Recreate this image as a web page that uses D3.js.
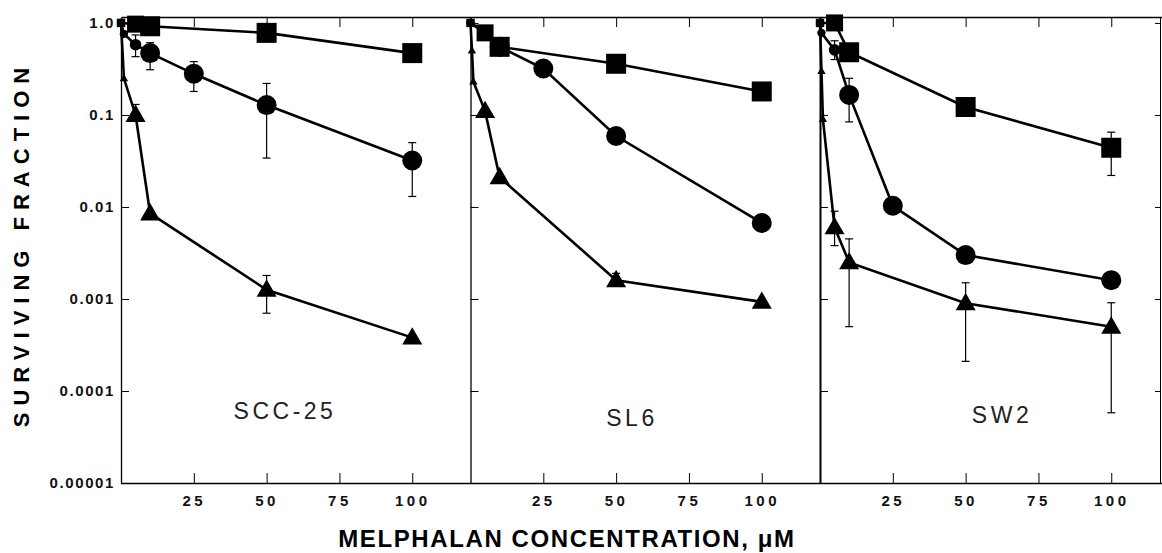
<!DOCTYPE html>
<html>
<head>
  <meta charset="utf-8">
  <title>Melphalan survival curves</title>
  <script src="https://d3js.org/d3.v7.min.js"></script>
  <style>
    body { margin: 0; background: #fff; }
    svg { display: block; }
    .tick text { font-family: "Liberation Sans", Arial, sans-serif; font-weight: bold; fill: #111; }
  </style>
</head>
<body>
<div id="chart"></div>

<script>
// cell lines (one panel each)
const cellLines = ["SCC-25", "SL6", "SW2"];

// [dose uM, surviving fraction]
const sccSquare   = [[0, 1.0], [5, 0.97], [10, 0.92], [50, 0.78], [100, 0.47]];
const sccCircle   = [[0, 1.0], [1, 0.76], [5, 0.58], [10, 0.47], [25, 0.28], [50, 0.128], [100, 0.032]];
const sccTriangle = [[0, 1.0], [1, 0.25], [5, 0.10], [10, 0.0085], [50, 0.00126], [100, 0.00038]];

const sl6Square   = [[0, 1.0], [5, 0.78], [10, 0.55], [50, 0.36], [100, 0.18]];
const sl6Circle   = [[0, 1.0], [5, 0.8], [10, 0.55], [25, 0.32], [50, 0.059], [100, 0.0067]];
const sl6Triangle = [[0, 1.0], [0.5, 0.5], [1, 0.23], [5, 0.11], [10, 0.021], [50, 0.0016], [100, 0.00093]];

const sw2Square   = [[0, 1.0], [5, 1.0], [10, 0.48], [50, 0.122], [100, 0.044]];
const sw2Circle   = [[0, 1.0], [0.5, 0.78], [5, 0.51], [10, 0.165], [25, 0.0103], [50, 0.003], [100, 0.0016]];
const sw2Triangle = [[0, 1.0], [0.5, 0.3], [1, 0.09], [5, 0.006], [10, 0.0025], [50, 0.0009], [100, 0.0005]];

// error bars: [dose, low, high]
const sccCircleErr   = [[5, 0.43, 0.74], [10, 0.31, 0.61], [25, 0.18, 0.38], [50, 0.034, 0.22], [100, 0.013, 0.05]];
const sccTriangleErr = [[5, 0.085, 0.13], [50, 0.0007, 0.0018]];
const sl6SquareErr   = [[10, 0.5, 0.6]];
const sl6CircleErr   = [[50, 0.048, 0.066], [100, 0.006, 0.0075]];
const sl6TriangleErr = [[50, 0.0014, 0.0019]];
const sw2SquareErr   = [[50, 0.1, 0.13], [100, 0.022, 0.065]];
const sw2CircleErr   = [[5, 0.4, 0.64], [10, 0.084, 0.25], [50, 0.0026, 0.0034], [100, 0.0015, 0.0018]];
const sw2TriangleErr = [[5, 0.0038, 0.009], [10, 0.0005, 0.0045], [50, 0.00021, 0.0015], [100, 0.000058, 0.00091]];

const xTicks = [25, 50, 75, 100];
const yTicks = [1, 0.1, 0.01, 0.001, 0.0001, 0.00001];
const yTickLabels = ["1.0", "0.1", "0.01", "0.001", "0.0001", "0.00001"];

const panelSeries = [
  [{shape: "square", pts: sccSquare, err: []},
   {shape: "circle", pts: sccCircle, err: sccCircleErr},
   {shape: "triangle", pts: sccTriangle, err: sccTriangleErr}],
  [{shape: "square", pts: sl6Square, err: sl6SquareErr},
   {shape: "circle", pts: sl6Circle, err: sl6CircleErr},
   {shape: "triangle", pts: sl6Triangle, err: sl6TriangleErr}],
  [{shape: "square", pts: sw2Square, err: sw2SquareErr},
   {shape: "circle", pts: sw2Circle, err: sw2CircleErr},
   {shape: "triangle", pts: sw2Triangle, err: sw2TriangleErr}]
];

const width = 1162, height = 553;
const plotLeft = 121, panelW = 349.5, rightEdge = 1160;
const plotTop = 17, plotBottom = 483;

const svg = d3.select("#chart").append("svg")
  .attr("width", width)
  .attr("height", height);

const y = d3.scaleLog().domain([0.00001, 1.16]).range([plotBottom, plotTop]);

const line = x => d3.line().x(d => x(d[0])).y(d => y(d[1]));

// marker size: near-zero doses are drawn small, low-dose circles a bit smaller
function markerScale(shape, dose) {
  if (dose < 2) return 0.42;
  if (dose < 8 && shape === "circle") return 0.58;
  if (dose < 8 && shape === "square") return 0.85;
  return 1;
}

function drawMarker(g, shape, cx, cy, k) {
  const s = 20 * k;
  if (shape === "square") {
    g.append("rect").attr("x", cx - s / 2).attr("y", cy - s / 2)
      .attr("width", s).attr("height", s).attr("fill", "#000");
  } else if (shape === "circle") {
    g.append("circle").attr("cx", cx).attr("cy", cy).attr("r", s / 2).attr("fill", "#000");
  } else {
    const h = s * 0.87;
    g.append("path")
      .attr("d", `M${cx},${cy - h * 0.6}L${cx + s / 2},${cy + h * 0.4}L${cx - s / 2},${cy + h * 0.4}Z`)
      .attr("fill", "#000");
  }
}

cellLines.forEach((name, i) => {
  const left = plotLeft + i * panelW;
  const x = d3.scaleLinear().domain([0, 120]).range([left, left + panelW]);
  const g = svg.append("g");

  // left axis with inward ticks
  const yAxis = d3.axisLeft(y).tickValues(yTicks).tickSizeInner(-8).tickSizeOuter(0).tickPadding(6)
    .tickFormat((d, j) => i === 0 ? yTickLabels[j] : "");
  g.append("g").attr("transform", `translate(${left},0)`).call(yAxis)
    .call(a => a.select(".domain").attr("stroke-width", i === 2 ? 2 : 1.3))
    .call(a => a.selectAll(".tick text").attr("font-size", 15).attr("letter-spacing", 1.6));

  // bottom and top axes
  g.append("g").attr("transform", `translate(0,${plotBottom})`)
    .call(d3.axisBottom(x).tickValues(xTicks).tickSizeInner(-10).tickSizeOuter(0).tickPadding(12))
    .call(a => a.select(".domain").attr("stroke-width", 1.3))
    .call(a => a.selectAll(".tick text").attr("font-size", 15).attr("letter-spacing", 3.5));
  g.append("g").attr("transform", `translate(0,${plotTop})`)
    .call(d3.axisTop(x).tickValues(xTicks).tickSizeInner(-10).tickSizeOuter(0).tickFormat(""))
    .call(a => a.select(".domain").attr("stroke-width", 1.3));

  if (i === 2) {
    g.append("g").attr("transform", `translate(${rightEdge},0)`)
      .call(d3.axisRight(y).tickValues(yTicks).tickSizeInner(-5).tickSizeOuter(0).tickFormat(""));
  }

  const series = panelSeries[i];

  series.forEach(s => {
    g.append("path").datum(s.pts).attr("d", line(x))
      .attr("fill", "none").attr("stroke", "#000").attr("stroke-width", 2.6);
  });

  series.forEach(s => {
    s.err.forEach(e => {
      const ex = x(e[0]);
      g.append("line").attr("x1", ex).attr("x2", ex).attr("y1", y(e[1])).attr("y2", y(e[2]))
        .attr("stroke", "#000").attr("stroke-width", 1.2);
      [e[1], e[2]].forEach(v => {
        g.append("line").attr("x1", ex - 4).attr("x2", ex + 4).attr("y1", y(v)).attr("y2", y(v))
          .attr("stroke", "#000").attr("stroke-width", 1.2);
      });
    });
  });

  series.forEach(s => {
    s.pts.forEach(p => drawMarker(g, s.shape, x(p[0]), y(p[1]), markerScale(s.shape, p[0])));
  });

  // cell line label
  g.append("text")
    .attr("x", [285, 632, 1002][i]).attr("y", [419, 426, 423][i])
    .attr("text-anchor", "middle")
    .attr("font-family", "Liberation Sans, Arial, sans-serif")
    .attr("font-size", 23).attr("letter-spacing", 3.5).attr("fill", "#222")
    .text(name);
});

// axis titles
svg.append("text")
  .attr("transform", "translate(29,244) rotate(-90)")
  .attr("text-anchor", "middle")
  .attr("font-family", "Liberation Sans, Arial, sans-serif")
  .attr("font-weight", "bold").attr("font-size", 22).attr("letter-spacing", 7)
  .text("SURVIVING FRACTION");

svg.append("text")
  .attr("x", 567).attr("y", 547)
  .attr("text-anchor", "middle")
  .attr("font-family", "Liberation Sans, Arial, sans-serif")
  .attr("font-weight", "bold").attr("font-size", 24).attr("letter-spacing", 1.6)
  .text("MELPHALAN CONCENTRATION, \u03bcM");
</script>
</body>
</html>
